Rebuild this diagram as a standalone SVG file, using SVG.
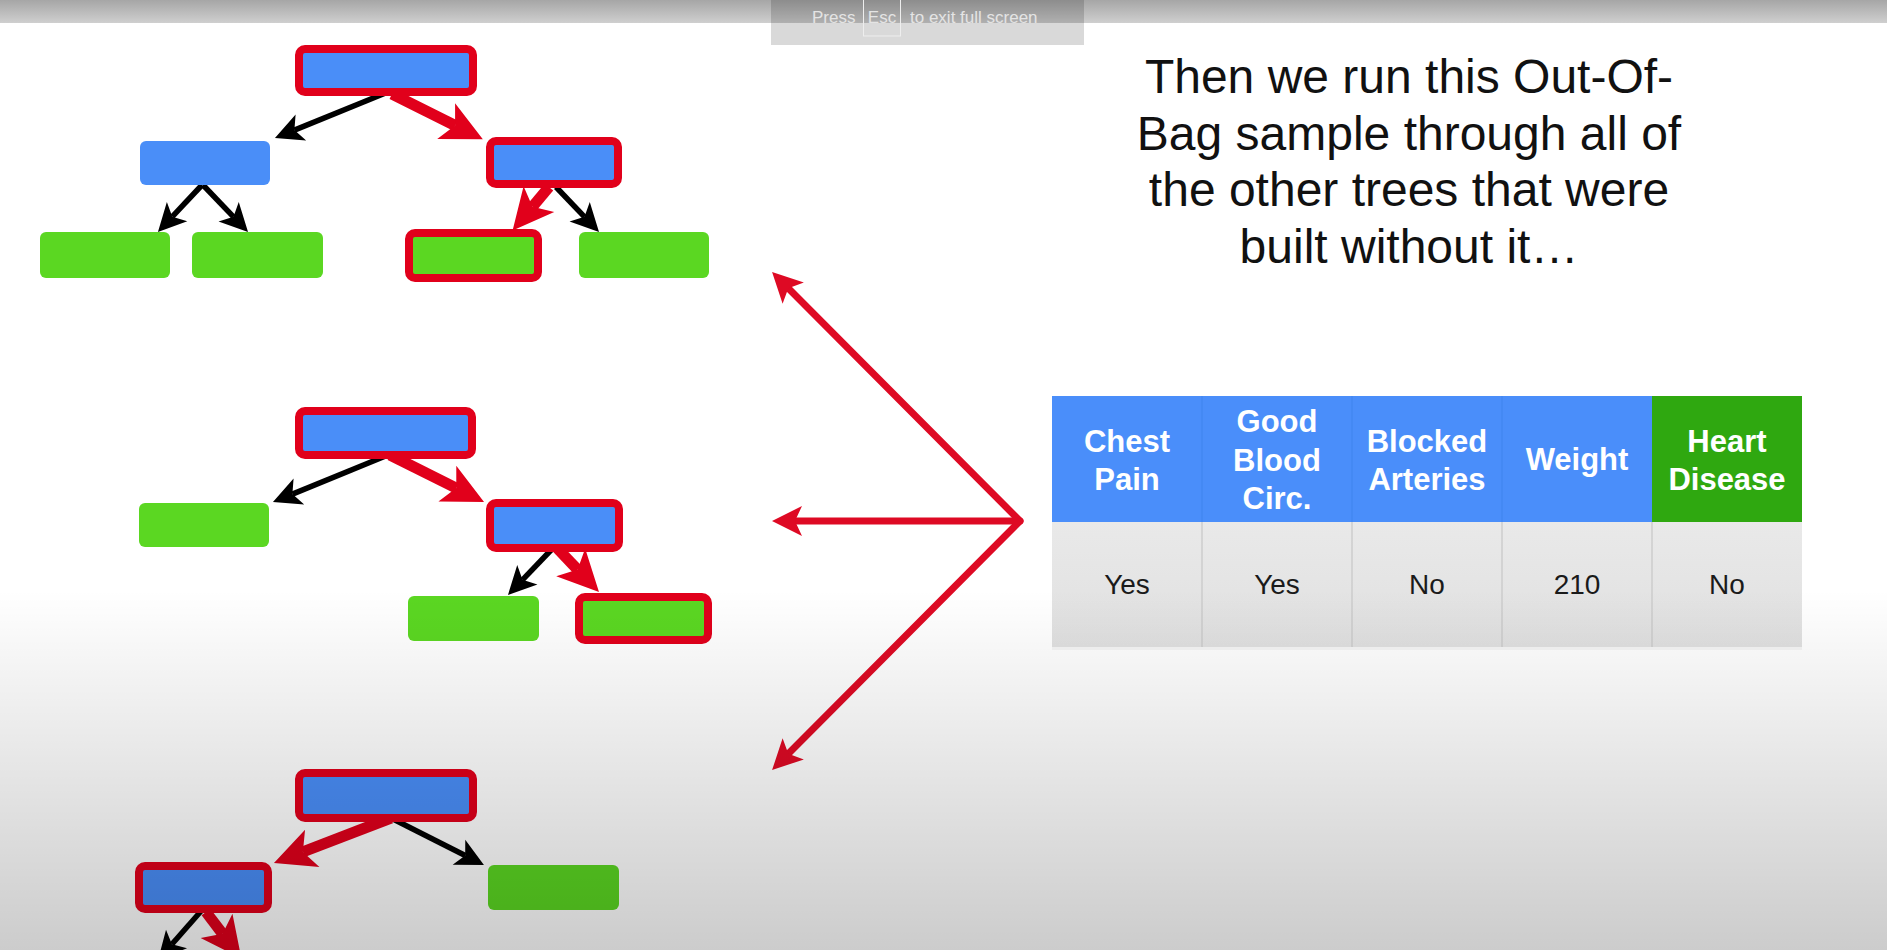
<svg xmlns="http://www.w3.org/2000/svg" width="1887" height="950" viewBox="0 0 1887 950">
<defs>
<style>
.blue{fill:#4a8ef8}
.green{fill:#5bd722}
.sel{stroke:#e1001b;stroke-width:8}
.bk{fill:none;stroke:#000;stroke-width:5.5;marker-end:url(#mBk)}
.rd{fill:none;stroke:#e1001b;stroke-width:11;marker-end:url(#mRd)}
.fan{fill:none;stroke:#de0a24;stroke-width:7;stroke-linejoin:round;stroke-linecap:round}
.title{font-family:"Liberation Sans",Arial,sans-serif;font-size:48px;fill:#111;text-anchor:middle}
.hd{font-family:"Liberation Sans",Arial,sans-serif;font-size:31px;font-weight:bold;fill:#fff;text-anchor:middle}
.cell{font-family:"Liberation Sans",Arial,sans-serif;font-size:28px;fill:#1a1a1a;text-anchor:middle}
.ui{font-family:"Liberation Sans",Arial,sans-serif;font-size:17px;fill:#e4e4e4}
</style>
<marker id="mBk" viewBox="0 -14 28 28" refX="7" refY="0" markerWidth="28" markerHeight="28" orient="auto" markerUnits="userSpaceOnUse" overflow="visible"><path d="M0,-14 L28,0 L0,14 L7,0 Z" fill="#000"/></marker>
<marker id="mRd" viewBox="0 -20 41 40" refX="10" refY="0" markerWidth="41" markerHeight="40" orient="auto" markerUnits="userSpaceOnUse" overflow="visible"><path d="M0,-20 L41,0 L0,20 L10,0 Z" fill="#e1001b"/></marker>
<marker id="mFan" viewBox="0 -15 30 30" refX="7" refY="0" markerWidth="30" markerHeight="30" orient="auto-start-reverse" markerUnits="userSpaceOnUse" overflow="visible"><path d="M0,-15 L30,0 L0,15 L7,0 Z" fill="#de0a24"/></marker>
<linearGradient id="shade" x1="0" y1="0" x2="0" y2="1">
<stop offset="0.62" stop-color="#000" stop-opacity="0"/>
<stop offset="1" stop-color="#000" stop-opacity="0.2"/>
</linearGradient>
<linearGradient id="bar" x1="0" y1="0" x2="0" y2="1">
<stop offset="0" stop-color="#a6a6a6"/>
<stop offset="1" stop-color="#cfcfcf"/>
</linearGradient>
<linearGradient id="cellg" x1="0" y1="0" x2="0" y2="1">
<stop offset="0" stop-color="#e9e9e9"/>
<stop offset="1" stop-color="#e0e0e0"/>
</linearGradient>
</defs>
<rect width="1887" height="950" fill="#fff"/>

<g id="connectors">
<path class="bk" d="M388,92 L294.4,130.1"/>
<path class="rd" d="M392,94 L455.1,125.5"/>
<path class="bk" d="M202,185 L172.3,216.7"/>
<path class="bk" d="M203,185 L233.5,216.8"/>
<path class="rd" d="M549,187 L532.5,206.7"/>
<path class="bk" d="M556,187 L584.5,216.8"/>
<path class="bk" d="M388,455 L292.4,494.1"/>
<path class="rd" d="M390,455 L456.3,488.1"/>
<path class="bk" d="M553,548 L522.5,579.8"/>
<path class="rd" d="M557,548 L577.6,569.6"/>
<path class="rd" d="M391,818 L302.9,851.9"/>
<path class="bk" d="M391,818 L465.2,855.5"/>
<path class="bk" d="M202,910 L171.9,944.2"/>
<path class="rd" d="M206,912 L222.6,933.8"/>
<path class="fan" d="M788.3,288.2 L1020,521 L788.3,753.8" marker-start="url(#mFan)" marker-end="url(#mFan)"/>
<path class="fan" d="M1020,521 L795,521" marker-end="url(#mFan)"/>
</g>

<g id="tree1">
<g id="t1-root"><rect class="blue sel" x="299" y="49" width="174" height="43" rx="6"/></g>
<g id="t1-l"><rect class="blue" x="140" y="141" width="130" height="44" rx="6"/></g>
<g id="t1-r"><rect class="blue sel" x="490" y="141" width="128" height="43" rx="6"/></g>
<g id="t1-ll"><rect class="green" x="40" y="232" width="130" height="46" rx="6"/></g>
<g id="t1-lr"><rect class="green" x="192" y="232" width="131" height="46" rx="6"/></g>
<g id="t1-rl"><rect class="green sel" x="409" y="233" width="129" height="45" rx="6"/></g>
<g id="t1-rr"><rect class="green" x="579" y="232" width="130" height="46" rx="6"/></g>
</g>

<g id="tree2">
<g id="t2-root"><rect class="blue sel" x="299" y="411" width="173" height="44" rx="6"/></g>
<g id="t2-l"><rect class="green" x="139" y="503" width="130" height="44" rx="6"/></g>
<g id="t2-r"><rect class="blue sel" x="490" y="503" width="129" height="45" rx="6"/></g>
<g id="t2-rl"><rect class="green" x="408" y="596" width="131" height="45" rx="6"/></g>
<g id="t2-rr"><rect class="green sel" x="579" y="597" width="129" height="43" rx="6"/></g>
</g>

<g id="tree3">
<g id="t3-root"><rect class="blue sel" x="299" y="773" width="174" height="45" rx="6"/></g>
<g id="t3-l"><rect class="blue sel" x="139" y="866" width="129" height="43" rx="6"/></g>
<g id="t3-r"><rect class="green" x="488" y="865" width="131" height="45" rx="6"/></g>
</g>

<g id="title">
<text class="title" x="1409" y="93">Then we run this Out-Of-</text>
<text class="title" x="1409" y="149.5">Bag sample through all of</text>
<text class="title" x="1409" y="206">the other trees that were</text>
<text class="title" x="1409" y="262.5">built without it…</text>
</g>

<g id="table">
<rect x="1052" y="522" width="750" height="128" fill="#000" opacity="0.04"/>
<rect x="1052" y="396" width="600" height="126" fill="#4a8efa"/>
<rect x="1652" y="396" width="150" height="126" fill="#2fa810"/>
<g stroke="#3f84ee" stroke-width="1">
<line x1="1202" y1="396" x2="1202" y2="522"/>
<line x1="1352" y1="396" x2="1352" y2="522"/>
<line x1="1502" y1="396" x2="1502" y2="522"/>
</g>
<rect x="1052" y="522" width="750" height="125" fill="url(#cellg)"/>
<g stroke="#c6c6c6" stroke-width="1.2">
<line x1="1202" y1="522" x2="1202" y2="647"/>
<line x1="1352" y1="522" x2="1352" y2="647"/>
<line x1="1502" y1="522" x2="1502" y2="647"/>
<line x1="1652" y1="522" x2="1652" y2="647"/>
</g>
<text class="hd" x="1127" y="452">Chest</text>
<text class="hd" x="1127" y="490">Pain</text>
<text class="hd" x="1277" y="432">Good</text>
<text class="hd" x="1277" y="471">Blood</text>
<text class="hd" x="1277" y="509">Circ.</text>
<text class="hd" x="1427" y="452">Blocked</text>
<text class="hd" x="1427" y="490">Arteries</text>
<text class="hd" x="1577" y="470">Weight</text>
<text class="hd" x="1727" y="452">Heart</text>
<text class="hd" x="1727" y="490">Disease</text>
<text class="cell" x="1127" y="594">Yes</text>
<text class="cell" x="1277" y="594">Yes</text>
<text class="cell" x="1427" y="594">No</text>
<text class="cell" x="1577" y="594">210</text>
<text class="cell" x="1727" y="594">No</text>
</g>

<rect width="1887" height="950" fill="url(#shade)"/>

<g id="fullscreen-hint">
<rect x="0" y="0" width="1887" height="23" fill="url(#bar)"/>
<rect x="771" y="0" width="313" height="45" fill="#000" opacity="0.15"/>
<rect x="863.5" y="-1" width="37" height="37" fill="none" stroke="#eeeeee" stroke-width="1"/>
<text class="ui" x="812" y="23">Press</text>
<text class="ui" x="882" y="23" text-anchor="middle">Esc</text>
<text class="ui" x="910" y="23">to exit full screen</text>
</g>
</svg>
